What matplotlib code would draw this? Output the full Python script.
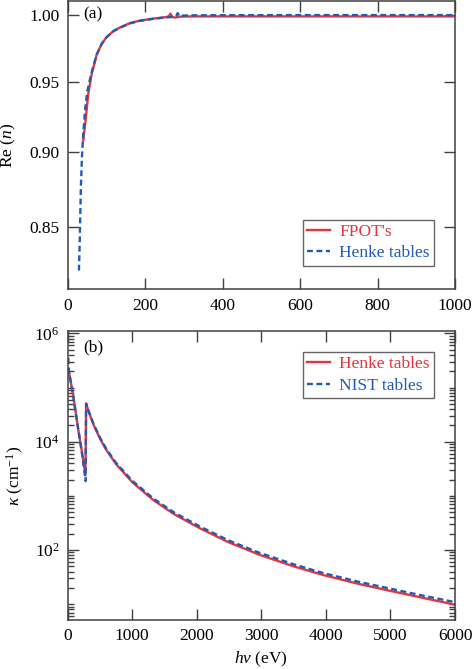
import matplotlib
matplotlib.use("Agg")
import matplotlib.pyplot as plt
from matplotlib.ticker import FixedLocator, NullLocator, NullFormatter, LogLocator, FixedFormatter
import numpy as np

plt.rcParams['font.family'] = ['Liberation Serif', 'DejaVu Serif']
plt.rcParams['mathtext.fontset'] = 'custom'
plt.rcParams['mathtext.rm'] = 'Liberation Serif'
plt.rcParams['mathtext.it'] = 'Liberation Serif:italic'
plt.rcParams['mathtext.bf'] = 'Liberation Serif:bold'

RED = '#e8333c'
BLUE = '#1f5bb5'
SPINE = '#404040'

# ---- panel (a): Re(n) ----
fpot_E = [40, 44, 47, 53, 62, 75, 88, 100, 118, 135, 160, 185, 220, 255, 262, 265, 270, 278, 290, 320, 400, 600, 800, 1000]
fpot_n = [0.908, 0.917, 0.9245, 0.941, 0.9557, 0.970, 0.978, 0.9828, 0.9875, 0.9903, 0.9935, 0.9954, 0.9970, 0.9982, 0.9990, 1.0008, 0.9982, 0.9978, 0.9985, 0.9987, 0.9987, 0.9987, 0.9987, 0.9987]

henke_E = [29, 31, 32, 34, 37, 40, 45, 50, 60, 75, 88, 100, 118, 135, 160, 185, 220, 250, 275, 281, 284, 288, 295, 320, 400, 600, 800, 1000]
henke_n = [0.822, 0.840, 0.852, 0.876, 0.898, 0.912, 0.930, 0.942, 0.955, 0.970, 0.978, 0.9828, 0.9875, 0.9900, 0.9933, 0.9952, 0.9968, 0.9978, 0.9984, 0.9995, 1.0012, 0.9990, 0.9993, 0.9995, 0.9996, 0.9997, 0.9997, 0.9997]

# ---- panel (b): kappa ----
henkeK_E = [20, 35, 51, 87, 125, 164, 220, 275, 285, 320, 400, 500, 600, 750, 1000, 1326, 1650, 2050, 2500, 2979, 3500, 3960, 4500, 4942, 5500, 6000]
henkeK_k = [1.95e5, 1.55e5, 1.2e5, 6.8e4, 3.4e4, 1.66e4, 6.5e3, 2.43e3, 5.1e4, 3.74e4, 2.06e4, 1.14e4, 6.98e3, 3.85e3, 1.79e3, 838, 458, 251, 138, 81, 50, 34.5, 23.8, 18.2, 13.1, 9.8]

nist_E = [10, 15, 20, 35, 51, 87, 125, 164, 220, 278, 285, 320, 400, 500, 600, 750, 1000, 1326, 1650, 2050, 2500, 2979, 3500, 3960, 4500, 4942, 5500, 6000]
nist_k = [3.5e5, 2.6e5, 2.0e5, 1.55e5, 1.2e5, 6.8e4, 3.4e4, 1.66e4, 6.3e3, 1.87e3, 5.0e4, 3.8e4, 2.12e4, 1.19e4, 7.3e3, 4.05e3, 1.9e3, 895, 492, 271, 149, 88, 54.5, 37.5, 26.0, 20.0, 14.4, 10.9]

fig = plt.figure(figsize=(4.72, 6.69), dpi=100)
W, H = 472.0, 669.0
left = 67.7 / W
width = (455.0 - 67.7) / W
ax1 = fig.add_axes([left, 1 - 289.3 / H, width, (289.3 - 0.8) / H])
ax2 = fig.add_axes([left, 1 - 620.0 / H, width, (620.0 - 331.0) / H])

for ax in (ax1, ax2):
    for s in ax.spines.values():
        s.set_color(SPINE)
        s.set_linewidth(1.1)
    ax.tick_params(which='both', direction='in', top=True, right=True, color=SPINE,
                   labelsize=12.5, width=1.0, pad=6)
    ax.tick_params(which='major', length=8)
    ax.tick_params(which='minor', length=4)

# panel (a)
ax1.plot(fpot_E, fpot_n, color=RED, lw=1.7, label="FPOT's")
ax1.plot(henke_E, henke_n, color=BLUE, lw=1.7, ls=(0, (2.5, 1.5)), label='Henke tables')
ax1.set_yscale('log')
ax1.set_xlim(0, 1000)
ax1.set_ylim(0.8103, 1.0107)
ax1.yaxis.set_major_locator(FixedLocator([0.85, 0.90, 0.95, 1.00]))
ax1.yaxis.set_major_formatter(FixedFormatter(['0.85', '0.90', '0.95', '1.00']))
ax1.yaxis.set_minor_locator(NullLocator())
ax1.yaxis.set_minor_formatter(NullFormatter())
ax1.set_xticks([0, 200, 400, 600, 800, 1000])
ax1.set_ylabel('Re ($n$)', fontsize=12.5, labelpad=8)
ax1.text(0.04, 0.952, '(a)', transform=ax1.transAxes, fontsize=12.5, va='center', ha='left')
leg1 = ax1.legend(loc='lower right', bbox_to_anchor=(0.946, 0.0816), fontsize=12.5,
                  frameon=True, fancybox=False, edgecolor=SPINE, handlelength=1.3,
                  handletextpad=0.55, borderpad=0.25, labelspacing=0.3, borderaxespad=0)
leg1.get_frame().set_linewidth(1.0)
for t, c in zip(leg1.get_texts(), [RED, BLUE]):
    t.set_color(c)

# panel (b)
ax2.plot(henkeK_E, henkeK_k, color=RED, lw=1.7, label='Henke tables')
ax2.plot(nist_E, nist_k, color=BLUE, lw=1.7, ls=(0, (2.5, 1.5)), label='NIST tables')
ax2.set_yscale('log')
ax2.set_xlim(0, 6000)
ax2.set_ylim(5.1, 1.107e6)
ax2.yaxis.set_major_locator(FixedLocator([1e2, 1e4, 1e6]))
ax2.yaxis.set_minor_locator(LogLocator(base=10, subs=np.arange(1, 10), numticks=30))
ax2.yaxis.set_minor_formatter(NullFormatter())
ax2.set_xticks([0, 1000, 2000, 3000, 4000, 5000, 6000])
ax2.set_ylabel('$\\kappa$ (cm$^{-1}$)', fontsize=12.5, labelpad=6)
ax2.set_xlabel('$h\\nu$ (eV)', fontsize=12.5, labelpad=4)
ax2.text(0.04, 0.945, '(b)', transform=ax2.transAxes, fontsize=12.5, va='center', ha='left')
leg2 = ax2.legend(loc='upper right', bbox_to_anchor=(0.946, 0.928), fontsize=12.5,
                  frameon=True, fancybox=False, edgecolor=SPINE, handlelength=1.3,
                  handletextpad=0.55, borderpad=0.25, labelspacing=0.3, borderaxespad=0)
leg2.get_frame().set_linewidth(1.0)
for t, c in zip(leg2.get_texts(), [RED, BLUE]):
    t.set_color(c)

fig.savefig('out.png', dpi=100)
